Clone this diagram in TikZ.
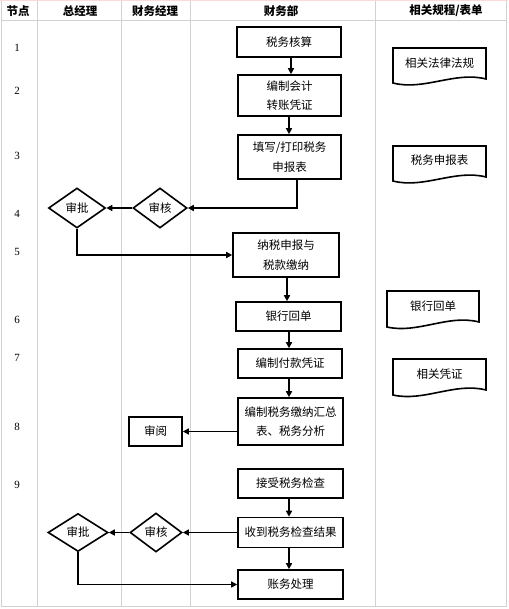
\documentclass[tikz,border=0pt]{standalone}
\usepackage{fontspec}
\setmainfont{Noto Sans CJK SC}
\newfontfamily\numfont{Liberation Serif}
\usetikzlibrary{shapes.geometric,arrows.meta}
\begin{document}
\begin{tikzpicture}[x=1pt,y=-1pt,
  grid/.style={draw=black!18,line width=0.6pt},
  hdr/.style={font=\bfseries\fontsize{11.5}{13}\selectfont,inner sep=0pt},
  num/.style={font=\numfont\fontsize{11}{13}\selectfont,inner sep=0pt},
  proc/.style={draw,line width=1.6pt,rectangle,inner sep=1pt,align=center,
    font=\fontsize{11.5}{19.5}\selectfont},
  dec/.style={draw,line width=1.6pt,diamond,inner sep=0pt,
    font=\fontsize{11.5}{14}\selectfont},
  doctxt/.style={inner sep=0pt,font=\fontsize{11.5}{14}\selectfont},
  docshape/.style={draw,line width=1.6pt},
  arr/.style={line width=1.6pt,-{Triangle[length=6pt,width=6pt]}}]
\useasboundingbox (0,0) rectangle (508,609);
% grid
\draw[grid] (1.5,1) -- (1.5,606) -- (506,606) -- (506,1);
\draw[draw=red!15,line width=0.8pt] (0,0.8) -- (508,0.8);
\draw[grid] (1.5,20.5) -- (506,20.5);
\foreach \x in {37,121,190.5,375}{\draw[grid] (\x,1) -- (\x,606);}
% header
\node[hdr] (h1) at (18,11) {节点};
\node[hdr] (h2) at (80,11) {总经理};
\node[hdr] (h3) at (155,11) {财务经理};
\node[hdr] (h4) at (281,11) {财务部};
\node[hdr] (h5) at (446,11) {相关规程/表单};
% numbers
\node[num] (n1) at (17,48) {1};
\node[num] (n2) at (17,91) {2};
\node[num] (n3) at (17,156) {3};
\node[num] (n4) at (17,214) {4};
\node[num] (n5) at (17,252) {5};
\node[num] (n6) at (17,320) {6};
\node[num] (n7) at (17,358) {7};
\node[num] (n8) at (17,427) {8};
\node[num] (n9) at (17,485) {9};
% process boxes
\node[proc,minimum width=104pt,minimum height=30pt] (b1) at (289,42) {税务核算};
\node[proc,minimum width=103pt,minimum height=41pt] (b2) at (289.5,95.5) {编制会计\\转账凭证};
\node[proc,minimum width=103pt,minimum height=44pt] (b3) at (289.5,157) {填写/打印税务\\申报表};
\node[proc,minimum width=106pt,minimum height=44pt] (b5) at (286,255) {纳税申报与\\税款缴纳};
\node[proc,minimum width=105pt,minimum height=29pt] (b6) at (288.5,316.5) {银行回单};
\node[proc,minimum width=104pt,minimum height=29pt] (b7) at (290,363.5) {编制付款凭证};
\node[proc,minimum width=105pt,minimum height=47pt] (b8) at (290.5,421.5) {编制税务缴纳汇总\\表、税务分析};
\node[proc,minimum width=53pt,minimum height=29pt] (sy) at (155.5,431.5) {审阅};
\node[proc,minimum width=105pt,minimum height=29pt] (b9) at (290.5,483.5) {接受税务检查};
\node[proc,minimum width=105pt,minimum height=30pt] (b10) at (290.5,532.5) {收到税务检查结果};
\node[proc,minimum width=105pt,minimum height=29pt] (b11) at (290.5,584.5) {账务处理};
% diamonds
\node[dec,minimum width=54pt,minimum height=40pt] (d1) at (160,208) {审核};
\node[dec,minimum width=57pt,minimum height=40pt] (d2) at (77,208) {审批};
\node[dec,minimum width=52pt,minimum height=39pt] (d3) at (156,532.5) {审核};
\node[dec,minimum width=60pt,minimum height=38pt] (d4) at (78,532.5) {审批};
% documents
\node[doctxt] (doc1) at (439.5,63) {相关法律法规};
\draw[docshape] (393,48) -- (486,48) -- (486,79) .. controls (455,71) and (424,91) .. (393,83) -- cycle;
\node[doctxt] (doc2) at (439.5,160) {税务申报表};
\draw[docshape] (393,146) -- (486,146) -- (486,177) .. controls (455,169) and (424,189) .. (393,181) -- cycle;
\node[doctxt] (doc3) at (433,306) {银行回单};
\draw[docshape] (387,291) -- (479,291) -- (479,322) .. controls (448,314) and (418,334) .. (387,327) -- cycle;
\node[doctxt] (doc4) at (439.5,374) {相关凭证};
\draw[docshape] (393,359) -- (486,359) -- (486,390) .. controls (455,382) and (424,402) .. (393,395) -- cycle;
% connectors
\draw[arr] (b1.south -| 291,0) -- (b2.north -| 291,0);
\draw[arr] (b2.south -| 289,0) -- (b3.north -| 289,0);
\draw[arr] (b3.south -| 297,0) |- (d1.east);
\draw[arr] (d1.west) -- (d2.east);
\draw[arr] (d2.south) |- (b5.west);
\draw[arr] (b5.south -| 287,0) -- (b6.north -| 287,0);
\draw[arr] (b6.south -| 289,0) -- (b7.north -| 289,0);
\draw[arr] (b7.south -| 289,0) -- (b8.north -| 289,0);
\draw[arr] (b8.west |- sy.east) -- (sy.east);
\draw[arr] (b9.south -| 289,0) -- (b10.north -| 289,0);
\draw[arr] (b10.west) -- (d3.east);
\draw[arr] (d3.west) -- (d4.east);
\draw[arr] (d4.south) |- (b11.west);
\draw[arr] (b10.south -| 289,0) -- (b11.north -| 289,0);
\end{tikzpicture}
\end{document}
